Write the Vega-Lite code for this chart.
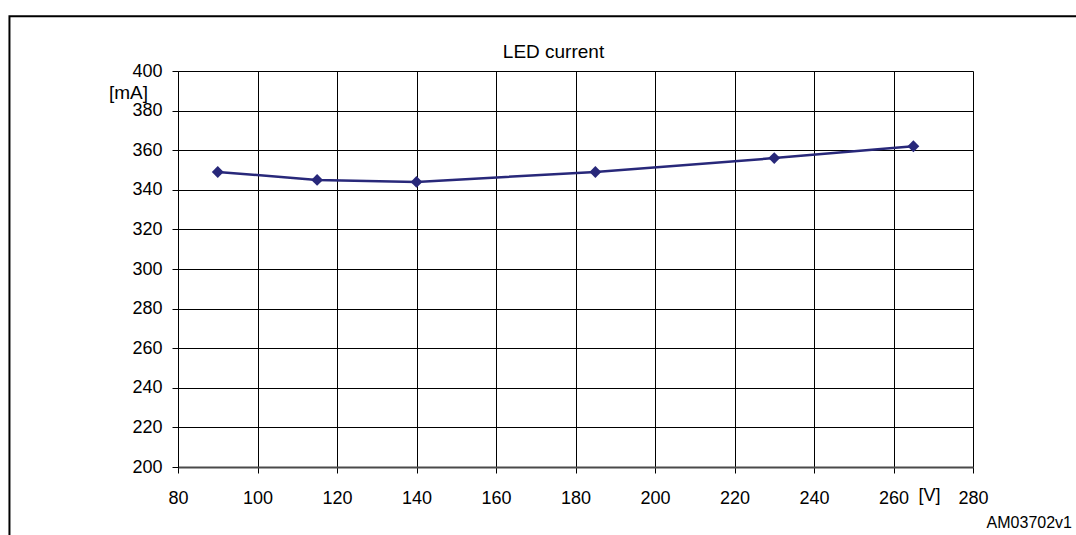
{
  "$schema": "https://vega.github.io/schema/vega-lite/v6.json",
  "autosize": {"type": "none"},
  "padding": {"left": 178, "top": 71, "right": 103, "bottom": 68},
  "width": 795,
  "height": 396,
  "background": "white",
  "config": {
    "view": {"stroke": null},
    "font": "Liberation Sans"
  },
  "title": {
    "text": "LED current",
    "font": "Liberation Sans",
    "fontSize": 19,
    "fontWeight": "normal",
    "color": "black",
    "anchor": "middle",
    "frame": "group",
    "baseline": "alphabetic",
    "offset": -62,
    "dx": -22
  },
  "datasets": {
    "led": [
      {"voltage": 90, "current": 349},
      {"voltage": 115, "current": 345},
      {"voltage": 140, "current": 344},
      {"voltage": 185, "current": 349},
      {"voltage": 230, "current": 356},
      {"voltage": 265, "current": 362}
    ],
    "frame": [
      {"voltage": 37.6, "voltage2": 330, "current": 427.6, "current2": 140}
    ],
    "note": [
      {"label": "AM03702v1", "voltage": 304.9, "current": 171.6}
    ]
  },
  "layer": [
    {
      "data": {"name": "led"},
      "mark": {"type": "line", "color": "#28287a", "strokeWidth": 2.5},
      "encoding": {
        "x": {
          "field": "voltage",
          "type": "quantitative",
          "scale": {"domain": [80, 280], "nice": false, "zero": false},
          "axis": {
            "values": [80, 100, 120, 140, 160, 180, 200, 220, 240, 260, 280],
            "tickCount": 11,
            "grid": true,
            "gridColor": "black",
            "gridWidth": 1,
            "gridOpacity": 1,
            "domainColor": "#4a4a4a",
            "domainWidth": 2,
            "tickColor": "black",
            "tickSize": 6,
            "labelFont": "Liberation Sans",
            "labelFontSize": 18,
            "labelColor": "black",
            "labelBaseline": "middle",
            "labelPadding": 25,
            "labelFlush": false,
            "labelOverlap": false,
            "title": "[V]",
            "titleFont": "Liberation Sans",
            "titleFontSize": 18,
            "titleFontWeight": "normal",
            "titleColor": "black",
            "titleX": 751,
            "titleY": 28,
            "titleAlign": "center",
            "titleBaseline": "middle"
          }
        },
        "y": {
          "field": "current",
          "type": "quantitative",
          "scale": {"domain": [200, 400], "nice": false, "zero": false},
          "axis": {
            "values": [200, 220, 240, 260, 280, 300, 320, 340, 360, 380, 400],
            "tickCount": 11,
            "grid": true,
            "gridColor": "black",
            "gridWidth": 1,
            "gridOpacity": 1,
            "domainColor": "black",
            "domainWidth": 1,
            "tickColor": "black",
            "tickSize": 6,
            "labelFont": "Liberation Sans",
            "labelFontSize": 18,
            "labelColor": "black",
            "labelPadding": 10,
            "labelFlush": false,
            "labelOverlap": false,
            "title": "[mA]",
            "titleFont": "Liberation Sans",
            "titleFontSize": 19,
            "titleFontWeight": "normal",
            "titleColor": "black",
            "titleAngle": 0,
            "titleX": -50,
            "titleY": 21,
            "titleAlign": "center",
            "titleBaseline": "middle"
          }
        }
      }
    },
    {
      "data": {"name": "led"},
      "mark": {"type": "point", "shape": "diamond", "filled": true, "color": "#28287a", "size": 140, "opacity": 1},
      "encoding": {
        "x": {"field": "voltage", "type": "quantitative"},
        "y": {"field": "current", "type": "quantitative"}
      }
    },
    {
      "data": {"name": "frame"},
      "mark": {"type": "rect", "fill": null, "stroke": "black", "strokeWidth": 2, "clip": false},
      "encoding": {
        "x": {"field": "voltage", "type": "quantitative"},
        "x2": {"field": "voltage2"},
        "y": {"field": "current", "type": "quantitative"},
        "y2": {"field": "current2"}
      }
    },
    {
      "data": {"name": "note"},
      "mark": {"type": "text", "align": "right", "baseline": "middle", "fontSize": 16, "font": "Liberation Sans", "color": "black", "clip": false},
      "encoding": {
        "x": {"field": "voltage", "type": "quantitative"},
        "y": {"field": "current", "type": "quantitative"},
        "text": {"field": "label"}
      }
    }
  ]
}
